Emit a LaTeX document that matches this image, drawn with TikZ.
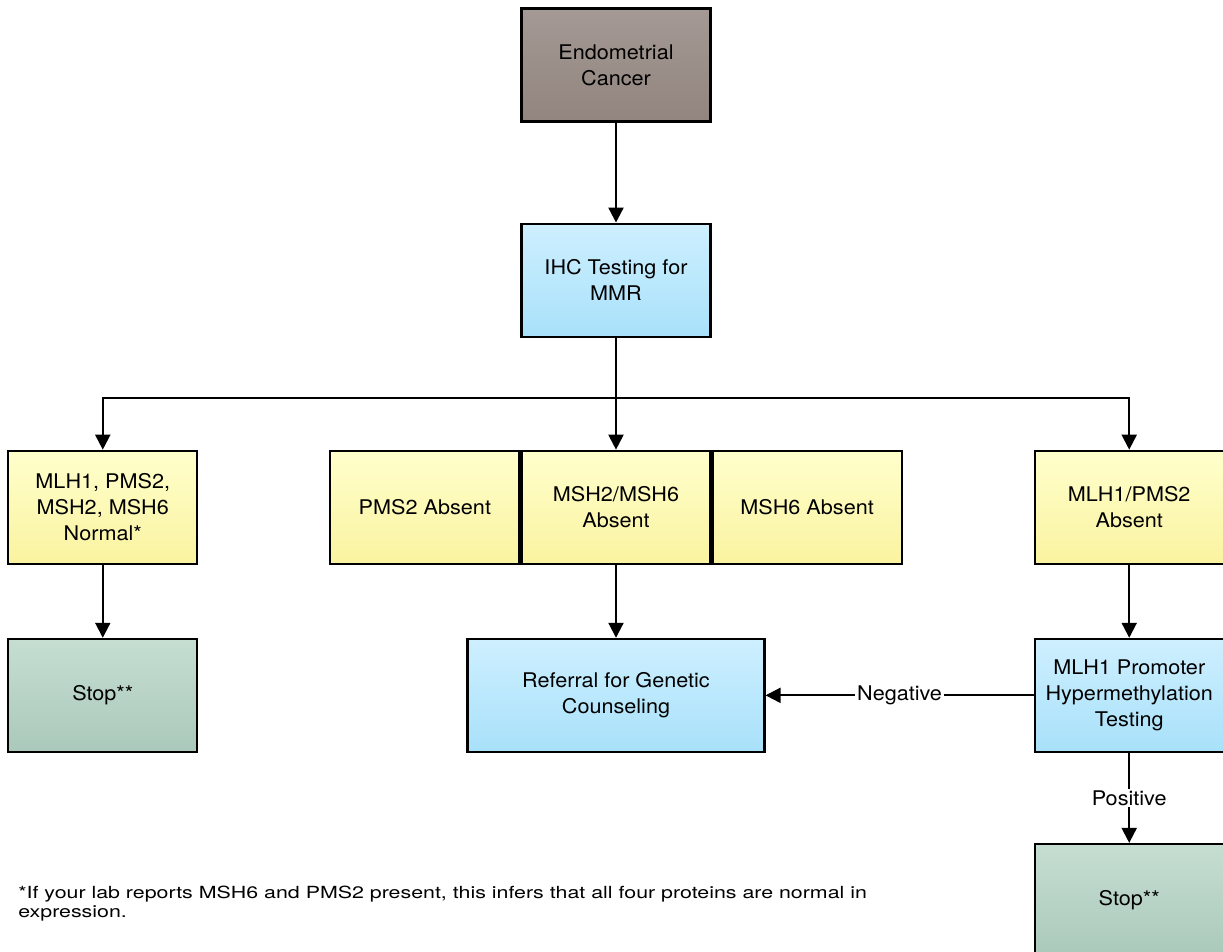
\documentclass[tikz,border=0pt]{standalone}
\usepackage{fontspec}
\setmainfont[FakeStretch=1.07]{TeX Gyre Heros}
\newfontfamily\notefont[FakeStretch=1.28]{TeX Gyre Heros}
\usetikzlibrary{arrows.meta, positioning}

\definecolor{ecTop}{RGB}{164,153,148}
\definecolor{ecBot}{RGB}{146,133,127}
\definecolor{tstTop}{RGB}{206,239,255}
\definecolor{tstBot}{RGB}{168,225,250}
\definecolor{resTop}{RGB}{255,255,204}
\definecolor{resBot}{RGB}{250,243,160}
\definecolor{stpTop}{RGB}{198,222,210}
\definecolor{stpBot}{RGB}{170,201,186}

\begin{document}
\begin{tikzpicture}[
  font=\fontsize{11.5}{15}\selectfont,
  node distance=20mm and 0mm,
  box/.style    ={rectangle, draw=black, line width=1.2pt, align=center,
                  minimum width=37.8mm, minimum height=22.6mm, inner sep=2pt},
  origin/.style ={box, top color=ecTop, bottom color=ecBot},
  test/.style   ={box, top color=tstTop, bottom color=tstBot},
  result/.style ={box, top color=resTop, bottom color=resBot},
  stopbox/.style={box, top color=stpTop, bottom color=stpBot},
  flow/.style   ={-{Triangle[length=3mm, width=3mm]}, line width=1.2pt},
  lbl/.style    ={fill=white, inner sep=1pt},
  note/.style   ={align=left, inner sep=0pt, font=\notefont\fontsize{9.5}{10.8}\selectfont},
]
\useasboundingbox (-123.2mm,13mm) rectangle (121.4mm,-177.2mm);

% ---- main column ----
\node[origin]                 (ec)   at (0,0) {Endometrial\\Cancer};
\node[test, below=of ec]      (ihc)  {IHC Testing for\\MMR};

% ---- IHC results ----
\node[result, below=22.4mm of ihc] (msh2) {MSH2/MSH6\\Absent};
\node[result, left=0mm of msh2]    (pms2) {PMS2 Absent};
\node[result, right=0mm of msh2]   (msh6) {MSH6 Absent};
\node[result, left=26.2mm of pms2] (norm) {MLH1, PMS2,\\MSH2, MSH6\\Normal*};
\node[result, right=26.2mm of msh6] (mlh1) {MLH1/PMS2\\Absent};

% ---- follow-up ----
\node[stopbox, below=14.6mm of norm]                (stopl) {Stop**};
\node[test, below=14.6mm of msh2, minimum width=59.4mm] (ref) {Referral for Genetic\\Counseling};
\node[test, below=14.6mm of mlh1]                   (prom)  {MLH1 Promoter\\Hypermethylation\\Testing};
\node[stopbox, below=18mm of prom]                  (stopr) {Stop**};

% ---- footnote ----
\node[note, anchor=base west] (fn) at (-119.6mm,-170.4mm)
  {*If your lab reports MSH6 and PMS2 present, this infers that all four proteins are normal in\\expression.};

% ---- connectors ----
\draw[flow] (ec) -- (ihc);
\draw[line width=1.2pt] (ihc.south) -- ++(0,-12mm) coordinate (split);
\draw[flow] (split) -| (norm.north);
\draw[flow] (split) -- (msh2.north);
\draw[flow] (split) -| (mlh1.north);

\draw[flow] (norm) -- (stopl);
\draw[flow] (msh2) -- (ref);
\draw[flow] (mlh1) -- (prom);
\draw[flow] (prom) -- (ref) node[lbl, midway] {Negative};
\draw[flow] (prom) -- (stopr) node[lbl, midway] {Positive};

\end{tikzpicture}
\end{document}
